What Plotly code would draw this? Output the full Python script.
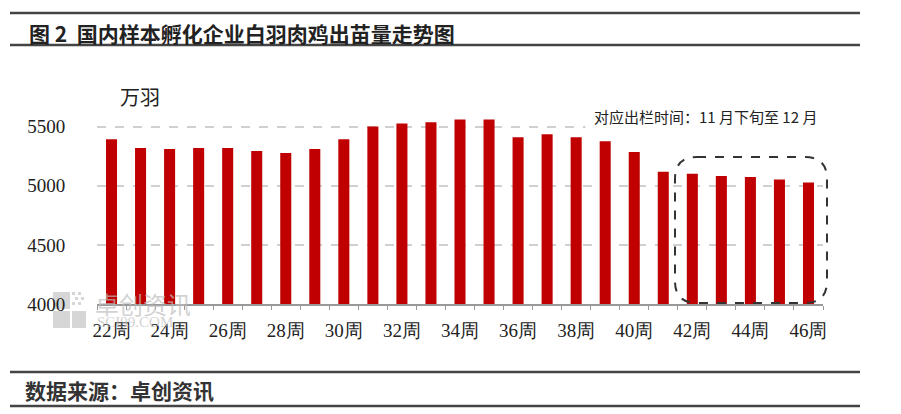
import plotly.graph_objects as go

# ---- data ----
weeks = [f"{w}周" for w in range(22, 47)]
values = [5395, 5320, 5312, 5320, 5320, 5295, 5278, 5312, 5395, 5503,
          5528, 5539, 5562, 5562, 5412, 5437, 5412, 5378, 5287, 5120,
          5103, 5083, 5075, 5053, 5028]
tick_text = [w if i % 2 == 0 else "" for i, w in enumerate(weeks)]
y_ticks = [4000, 4500, 5000, 5500]

title_text = "图 2  国内样本孵化企业白羽肉鸡出苗量走势图"
source_text = "数据来源：卓创资讯"
unit_text = "万羽"
note_text = "对应出栏时间：11 月下旬至 12 月"

# ---- layout geometry (pixels) ----
W, H = 901, 414
ML, MR, MT, MB = 97, 78, 92, 110
PW, PH = W - ML - MR, H - MT - MB


def px(x):
    return (x - ML) / PW


def py(y):
    return (H - MB - y) / PH


fig = go.Figure()
fig.add_trace(go.Bar(x=weeks, y=values, marker=dict(color="#C00000", line=dict(width=0)),
                     hoverinfo="x+y"))

serif = "Liberation Serif, Times New Roman, serif"
cjk = "Noto Sans CJK SC, sans-serif"

fig.update_layout(
    width=W, height=H,
    margin=dict(l=ML, r=MR, t=MT, b=MB, pad=0),
    paper_bgcolor="white", plot_bgcolor="white",
    bargap=0.62, showlegend=False,
    xaxis=dict(type="category", tickmode="array", tickvals=weeks, ticktext=tick_text,
               tickson="boundaries", ticks="outside", ticklen=4, tickwidth=1.2,
               tickcolor="#999999", showline=True, linecolor="#999999", linewidth=1.5,
               showgrid=False, tickfont=dict(family=serif, size=19, color="#222222"),
               tickangle=0, ticklabelstandoff=8),
    yaxis=dict(range=[4000, 5794], tickmode="array", tickvals=y_ticks,
               showline=False, zeroline=False, ticks="outside", ticklen=27,
               tickcolor="rgba(0,0,0,0)",
               showgrid=True, gridcolor="#d0d0d0", griddash="dash", gridwidth=1.5,
               tickfont=dict(family=serif, size=19, color="#222222")),
)

shapes = []
# header / footer rules
for yy in (13, 45, 372, 406):
    shapes.append(dict(type="line", xref="paper", yref="paper",
                       x0=px(10), x1=px(860), y0=py(yy), y1=py(yy),
                       line=dict(color="#444444", width=2.5)))

# rounded dashed box around weeks 42-46
x0, x1, y0, y1, r = 675, 827, 157, 303, 22
path = (f"M {px(x0 + r)} {py(y0)} L {px(x1 - r)} {py(y0)} "
        f"Q {px(x1)} {py(y0)} {px(x1)} {py(y0 + r)} "
        f"L {px(x1)} {py(y1 - r)} Q {px(x1)} {py(y1)} {px(x1 - r)} {py(y1)} "
        f"L {px(x0 + r)} {py(y1)} Q {px(x0)} {py(y1)} {px(x0)} {py(y1 - r)} "
        f"L {px(x0)} {py(y0 + r)} Q {px(x0)} {py(y0)} {px(x0 + r)} {py(y0)} Z")
shapes.append(dict(type="path", xref="paper", yref="paper", path=path,
                   line=dict(color="#333333", width=2, dash="dash"), layer="above"))

# watermark logo squares (drawn beneath labels)
for (a, b, c, d) in [(53, 70, 311, 328), (72, 86, 311, 328), (53, 70, 292, 309)]:
    shapes.append(dict(type="rect", xref="paper", yref="paper",
                       x0=px(a), x1=px(b), y0=py(d), y1=py(c),
                       fillcolor="#d6d6d6", line=dict(width=0), layer="below"))
for (a, c) in [(72, 292), (78, 292), (75, 297), (81, 297), (72, 302), (78, 302)]:
    shapes.append(dict(type="rect", xref="paper", yref="paper",
                       x0=px(a), x1=px(a + 3), y0=py(c + 3), y1=py(c),
                       fillcolor="#d6d6d6", line=dict(width=0), layer="below"))

fig.update_layout(shapes=shapes)

ann = [
    dict(text=title_text, x=px(27), y=py(33), xanchor="left", yanchor="middle",
         font=dict(family=cjk, size=21, color="#222222", weight="bold")),
    dict(text=source_text, x=px(23), y=py(390), xanchor="left", yanchor="middle",
         font=dict(family=cjk, size=21, color="#333333", weight="bold")),
    dict(text=unit_text, x=px(140), y=py(96), xanchor="center", yanchor="middle",
         font=dict(family=cjk, size=20, color="#222222")),
    dict(text=note_text, x=px(705), y=py(116), xanchor="center", yanchor="middle",
         font=dict(family=cjk, size=15, color="#222222"), bgcolor="white",
         borderpad=8),
    dict(text="卓创资讯", x=px(93), y=py(303), xanchor="left", yanchor="middle",
         font=dict(family=cjk, size=24, color="rgba(190,190,190,0.7)")),
    dict(text="SCI99.COM", x=px(95), y=py(322), xanchor="left", yanchor="middle",
         font=dict(family=serif, size=15, color="rgba(190,190,190,0.7)")),
]
for a in ann:
    a.update(xref="paper", yref="paper", showarrow=False)
fig.update_layout(annotations=ann)

fig.write_html("out.html", config={"displayModeBar": False},
               post_script="document.body.style.margin='0';")
